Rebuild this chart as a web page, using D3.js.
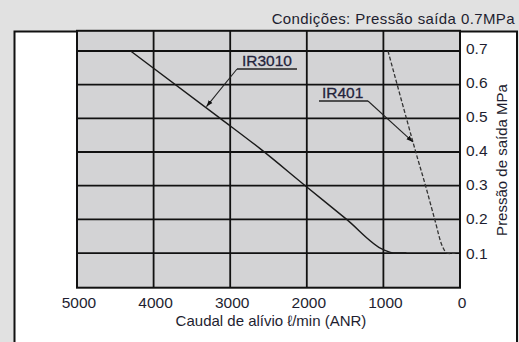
<!DOCTYPE html>
<html>
<head>
<meta charset="utf-8">
<script src="https://cdn.jsdelivr.net/npm/d3@7"></script>
<style>
  body { margin: 0; background: #e1e1e1; }
  svg { display: block; font-family: "Liberation Sans", Arial, sans-serif; }
</style>
</head>
<body>
<script>
// Width and height
var w = 519;
var h = 342;

// data (flow l/min, pressure MPa)
var ir3010Flow = [4300, 3130, 2610, 2020, 1480, 1000, 850, 700];
var ir3010Press = [0.70, 0.50, 0.41, 0.30, 0.20, 0.11, 0.10, 0.10];
var ir401Flow = [940, 590, 450, 330, 230, 170, 60];
var ir401Press = [0.70, 0.41, 0.30, 0.20, 0.12, 0.10, 0.10];
var xTicks = [5000, 4000, 3000, 2000, 1000, 0];
var yTicks = [0.1, 0.2, 0.3, 0.4, 0.5, 0.6, 0.7];

var x = d3.scaleLinear().domain([5000, 0]).range([77, 460]);
var y = d3.scaleLinear().domain([0, 0.7]).range([286.7, 51]);
var yTop = 0.76;

//Create SVG element
var svg = d3.select("body")
            .append("svg")
            .attr("width", w)
            .attr("height", h);

// white panel
svg.append("rect")
   .attr("x", 14.5)
   .attr("y", 31.5)
   .attr("width", 502.5)
   .attr("height", 320)
   .attr("fill", "white")
   .attr("stroke", "#111")
   .attr("stroke-width", 2);

// plot background
svg.append("rect")
   .attr("x", x(5000))
   .attr("y", y(yTop))
   .attr("width", x(0) - x(5000))
   .attr("height", y(0) - y(yTop) + 1)
   .attr("fill", "#d3d3d5");

// grid
svg.selectAll("line.vgrid")
   .data(xTicks)
   .enter()
   .append("line")
   .attr("class", "vgrid")
   .attr("x1", function(d) { return x(d); })
   .attr("x2", function(d) { return x(d); })
   .attr("y1", y(yTop))
   .attr("y2", y(0) + 1)
   .attr("stroke", "#111")
   .attr("stroke-width", 1.8);

svg.selectAll("line.hgrid")
   .data(yTicks)
   .enter()
   .append("line")
   .attr("class", "hgrid")
   .attr("x1", x(5000))
   .attr("x2", x(0))
   .attr("y1", function(d) { return y(d); })
   .attr("y2", function(d) { return y(d); })
   .attr("stroke", "#111")
   .attr("stroke-width", 1.8);

// plot border
svg.append("rect")
   .attr("x", x(5000))
   .attr("y", y(yTop))
   .attr("width", x(0) - x(5000))
   .attr("height", y(0) - y(yTop) + 1)
   .attr("fill", "none")
   .attr("stroke", "#111")
   .attr("stroke-width", 2);

// curves
var line = d3.line()
    .x(function(d) { return x(d[0]); })
    .y(function(d) { return y(d[1]); })
    .curve(d3.curveMonotoneX);

svg.append("path")
   .datum(d3.zip(ir3010Flow, ir3010Press))
   .attr("d", line)
   .attr("fill", "none")
   .attr("stroke", "#1a1a1a")
   .attr("stroke-width", 1.4);

svg.append("path")
   .datum(d3.zip(ir401Flow, ir401Press))
   .attr("d", d3.line()
       .x(function(d) { return x(d[0]); })
       .y(function(d) { return y(d[1]); })
       .curve(d3.curveCatmullRom))
   .attr("fill", "none")
   .attr("stroke", "#333")
   .attr("stroke-width", 1.3)
   .attr("stroke-dasharray", "4,2");

// arrow marker
svg.append("defs").append("marker")
   .attr("id", "arr")
   .attr("viewBox", "0 0 10 10")
   .attr("refX", 10)
   .attr("refY", 5)
   .attr("markerWidth", 6)
   .attr("markerHeight", 6)
   .attr("orient", "auto")
   .append("path")
   .attr("d", "M0,1.5L10,5L0,8.5z")
   .attr("fill", "#111");

// labels with leaders
var notes = [
  { name: "IR3010", tx: 242, ty: 65.5, ux1: 237, ux2: 297, uy: 69, from: 237, px: 3310, pp: 0.535 },
  { name: "IR401", tx: 322, ty: 97.5, ux1: 319, ux2: 368, uy: 101, from: 368, px: 615, pp: 0.43 }
];

notes.forEach(function(n) {
  svg.append("text")
     .text(n.name)
     .attr("x", n.tx)
     .attr("y", n.ty)
     .attr("font-size", "15.5px")
     .attr("fill", "#24243c")
     .attr("stroke", "#24243c")
     .attr("stroke-width", 0.3);
  svg.append("line")
     .attr("x1", n.ux1).attr("x2", n.ux2)
     .attr("y1", n.uy).attr("y2", n.uy)
     .attr("stroke", "#222")
     .attr("stroke-width", 1.3);
  svg.append("line")
     .attr("x1", n.from)
     .attr("y1", n.uy)
     .attr("x2", x(n.px))
     .attr("y2", y(n.pp))
     .attr("stroke", "#222")
     .attr("stroke-width", 1.1)
     .attr("marker-end", "url(#arr)");
});

// x tick labels
svg.selectAll("text.xt")
   .data(xTicks)
   .enter()
   .append("text")
   .attr("class", "xt")
   .text(function(d) { return d; })
   .attr("x", function(d) { return x(d) + 2; })
   .attr("y", 308)
   .attr("text-anchor", "middle")
   .attr("font-size", "15.5px")
   .attr("fill", "#1e1e30");

// y tick labels (right side)
svg.selectAll("text.yt")
   .data(yTicks)
   .enter()
   .append("text")
   .attr("class", "yt")
   .text(function(d) { return d.toFixed(1); })
   .attr("x", 466)
   .attr("y", function(d) { return y(d) + 5.5 - (d - 0.1) * 5; })
   .attr("font-size", "15.5px")
   .attr("fill", "#1e1e30");

// axis titles
svg.append("text")
   .text("Caudal de alívio \u2113/min (ANR)")
   .attr("x", 271)
   .attr("y", 325.5)
   .attr("text-anchor", "middle")
   .attr("font-size", "15px")
   .attr("fill", "#1e1e30");

svg.append("text")
   .text("Pressão de saída MPa")
   .attr("transform", "translate(506.5,160) rotate(-90)")
   .attr("text-anchor", "middle")
   .attr("font-size", "15px")
   .attr("fill", "#1e1e30");

svg.append("text")
   .text("Condições: Pressão saída 0.7MPa")
   .attr("x", 515)
   .attr("y", 24)
   .attr("text-anchor", "end")
   .attr("font-size", "15px")
   .attr("letter-spacing", "0.4px")
   .attr("fill", "#1e1e30");
</script>
</body>
</html>
